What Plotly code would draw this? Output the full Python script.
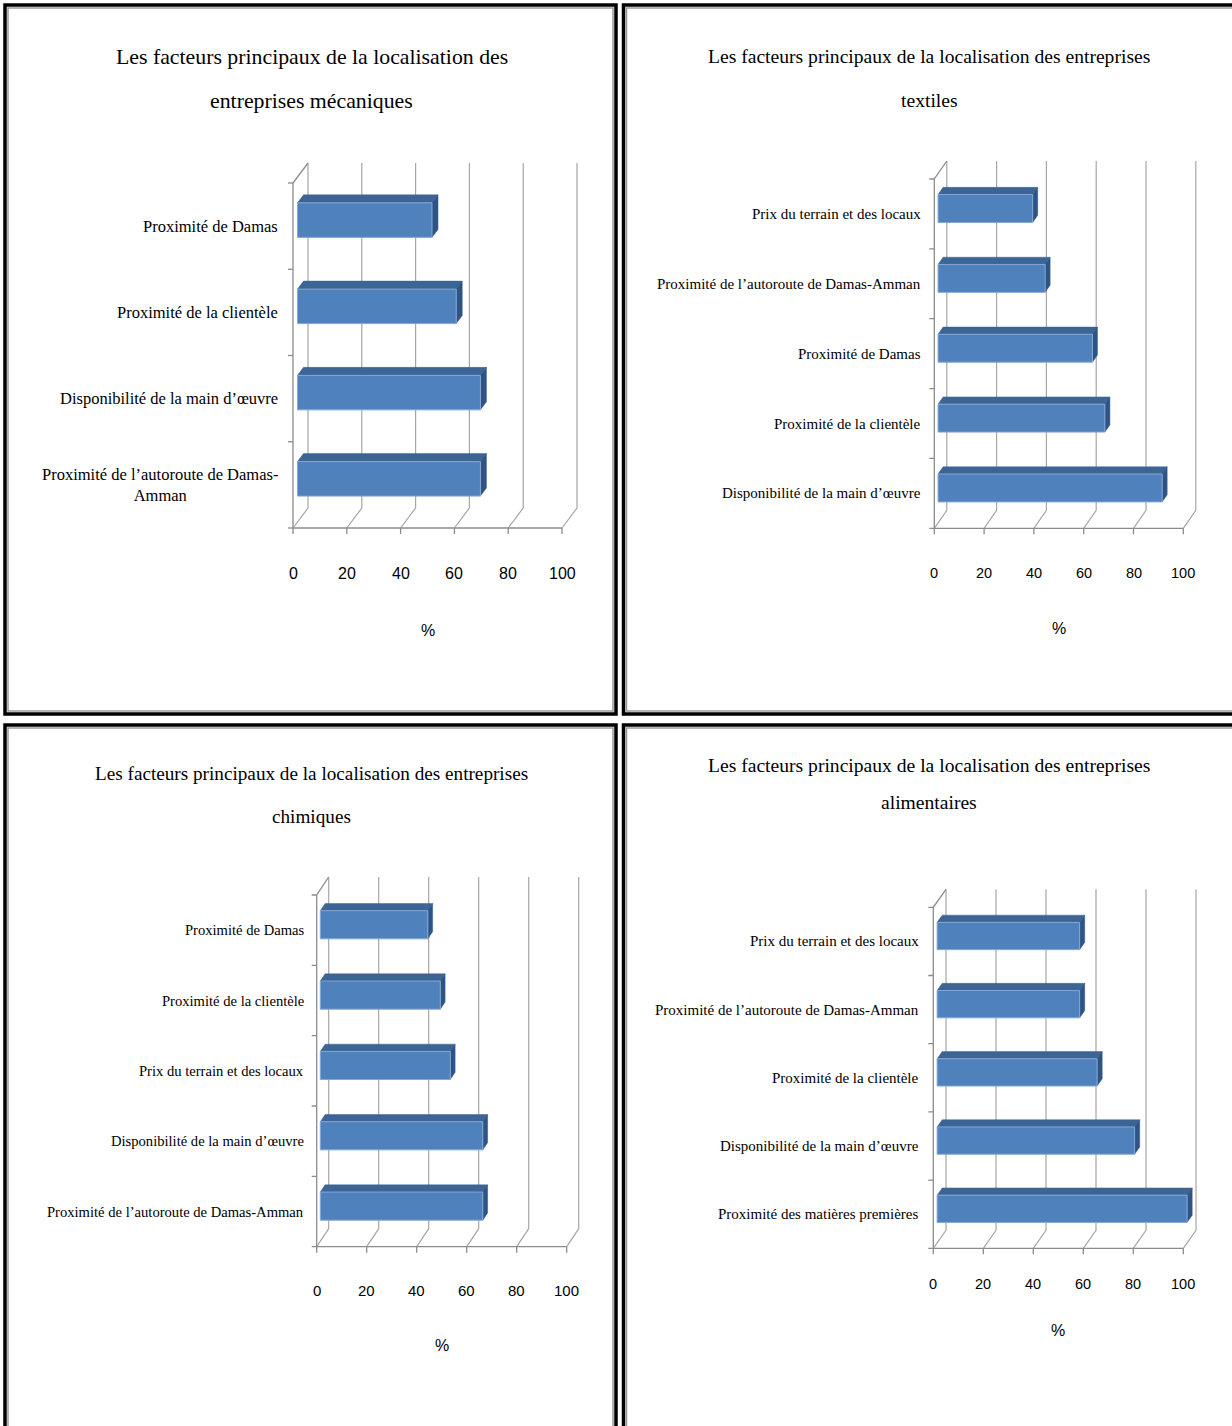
import plotly.graph_objects as go

W, H = 1232, 1426

# ---------------- DATA ----------------
title_line1_long = "Les facteurs principaux de la localisation des entreprises"
meca_title = ["Les facteurs principaux de la localisation des", "entreprises mécaniques"]
text_title = [title_line1_long, "textiles"]
chim_title = [title_line1_long, "chimiques"]
alim_title = [title_line1_long, "alimentaires"]

# categories listed bottom -> top
meca_labels = ["Proximité de l’autoroute de Damas-<br>Amman", "Disponibilité de la main d’œuvre",
               "Proximité de la clientèle", "Proximité de Damas"]
meca_values = [68, 68, 59, 50]

text_labels = ["Disponibilité de la main d’œuvre", "Proximité de la clientèle", "Proximité de Damas",
               "Proximité de l’autoroute de Damas-Amman", "Prix du terrain et des locaux"]
text_values = [90, 67, 62, 43, 38]

chim_labels = ["Proximité de l’autoroute de Damas-Amman", "Disponibilité de la main d’œuvre",
               "Prix du terrain et des locaux", "Proximité de la clientèle", "Proximité de Damas"]
chim_values = [65, 65, 52, 48, 43]

alim_labels = ["Proximité des matières premières", "Disponibilité de la main d’œuvre",
               "Proximité de la clientèle", "Proximité de l’autoroute de Damas-Amman",
               "Prix du terrain et des locaux"]
alim_values = [100, 79, 64, 57, 57]

x_ticks = [0, 20, 40, 60, 80, 100]
x_title = "%"

# ---------------- STYLE / LAYOUT (pixels) ----------------
FRONT = "#4F81BD"
TOP = "#3C6494"
SIDE = "#2E5486"
EDGE = "#86A8D2"
AXIS = "#8C8C8C"
GRID = "#A6A6A6"
SERIF = "Liberation Serif, Times New Roman, serif"
SANS = "Liberation Sans, Arial, sans-serif"

panels = [
    dict(title=meca_title, labels=meca_labels, values=meca_values,
         x0=293, x100=562, ybot=528, ytop=183, Dx=15, Dy=20,
         tpos=[(312, 57), (312, 101)], tsize=21.8, lsize=16.5, lgap=13,
         ty=573, tfs=16, py=630),
    dict(title=text_title, labels=text_labels, values=text_values,
         x0=934.3, x100=1183.3, ybot=528.3, ytop=179, Dx=12.5, Dy=18,
         tpos=[(929, 56), (929, 100)], tsize=19.6, lsize=15, lgap=11,
         ty=573, tfs=14.5, py=628),
    dict(title=chim_title, labels=chim_labels, values=chim_values,
         x0=316.7, x100=566.7, ybot=1246.7, ytop=895, Dx=12, Dy=18,
         tpos=[(312, 773), (312, 816)], tsize=19.2, lsize=14.6, lgap=11,
         ty=1290, tfs=15, py=1345),
    dict(title=alim_title, labels=alim_labels, values=alim_values,
         x0=933.3, x100=1183.3, ybot=1248.3, ytop=907.3, Dx=12.7, Dy=18,
         tpos=[(929, 766), (929, 802)], tsize=19.6, lsize=15, lgap=12,
         ty=1284, tfs=14.5, py=1330),
]

fig = go.Figure()
annotations = []
layout_axes = {}


def px2x(px):
    return px / W


def px2y(py):
    return 1 - py / H


for k, p in enumerate(panels, start=1):
    sfx = "" if k == 1 else str(k)
    xa, ya = f"x{sfx}", f"y{sfx}"
    n = len(p["labels"])
    sx = (p["x100"] - p["x0"]) / 100.0
    band = (p["ybot"] - p["ytop"]) / n
    dx = p["Dx"] / sx
    dy = p["Dy"] / band

    L = p["x0"] - 12
    R = p["x100"] + p["Dx"] + 12
    B = p["ybot"] + 12
    T = p["ytop"] - p["Dy"] - 8
    layout_axes[f"xaxis{sfx}"] = dict(domain=[px2x(L), px2x(R)],
                                      range=[(L - p["x0"]) / sx, (R - p["x0"]) / sx],
                                      visible=False, anchor=ya, fixedrange=True)
    layout_axes[f"yaxis{sfx}"] = dict(domain=[px2y(B), px2y(T)],
                                      range=[(p["ybot"] - B) / band, (p["ybot"] - T) / band],
                                      visible=False, anchor=xa, fixedrange=True)

    # back wall gridlines + floor diagonals
    gx, gy = [], []
    for v in x_ticks:
        gx += [v, v + dx, v + dx, None]
        gy += [0, dy, n + dy, None]
    fig.add_trace(go.Scatter(x=gx, y=gy, mode="lines", line=dict(color=GRID, width=1.2),
                             xaxis=xa, yaxis=ya, hoverinfo="skip", showlegend=False))
    # front axes with tick marks
    ax_x, ax_y = [0, 100, None, 0, 0, dx, None], [0, 0, None, 0, n, n + dy, None]
    for v in x_ticks:
        ax_x += [v, v, None]
        ax_y += [0, -6 / band, None]
    for i in range(n + 1):
        ax_x += [0, -5 / sx, None]
        ax_y += [i, i, None]
    fig.add_trace(go.Scatter(x=ax_x, y=ax_y, mode="lines", line=dict(color=AXIS, width=1.3),
                             xaxis=xa, yaxis=ya, hoverinfo="skip", showlegend=False))

    # 3D bars
    f, bf, h = 0.3, 0.4, 0.40
    fx, fy, tx, ty_, sxs, sys_ = [], [], [], [], [], []
    for i, v in enumerate(p["values"]):
        c = i + 0.5
        xs = f * dx
        y0 = c - h / 2 + f * dy
        y1 = c + h / 2 + f * dy
        ddx, ddy = bf * dx, bf * dy
        fx += [xs, xs + v, xs + v, xs, xs, None]
        fy += [y0, y0, y1, y1, y0, None]
        tx += [xs, xs + v, xs + v + ddx, xs + ddx, xs, None]
        ty_ += [y1, y1, y1 + ddy, y1 + ddy, y1, None]
        sxs += [xs + v, xs + v + ddx, xs + v + ddx, xs + v, xs + v, None]
        sys_ += [y0, y0 + ddy, y1 + ddy, y1, y0, None]
    fig.add_trace(go.Scatter(x=tx, y=ty_, mode="lines", fill="toself", fillcolor=TOP,
                             line=dict(color=TOP, width=0.5), xaxis=xa, yaxis=ya,
                             hoverinfo="skip", showlegend=False))
    fig.add_trace(go.Scatter(x=sxs, y=sys_, mode="lines", fill="toself", fillcolor=SIDE,
                             line=dict(color=SIDE, width=0.5), xaxis=xa, yaxis=ya,
                             hoverinfo="skip", showlegend=False))
    fig.add_trace(go.Scatter(x=fx, y=fy, mode="lines", fill="toself", fillcolor=FRONT,
                             line=dict(color=EDGE, width=1), xaxis=xa, yaxis=ya,
                             hoverinfo="skip", showlegend=False))

    # category labels (x in paper, y on the category axis)
    for i, lab in enumerate(p["labels"]):
        annotations.append(dict(text=lab, xref="paper", yref=ya, x=px2x(p["x0"] - p["lgap"]),
                                y=i + 0.5, xanchor="right", yanchor="middle", align="center",
                                showarrow=False,
                                font=dict(family=SERIF, size=p["lsize"], color="black")))
    # x tick labels
    for v in x_ticks:
        annotations.append(dict(text=str(v), xref=xa, yref="paper", x=v, y=px2y(p["ty"]),
                                xanchor="center", yanchor="middle", showarrow=False,
                                font=dict(family=SANS, size=p["tfs"], color="black")))
    # axis title
    annotations.append(dict(text=x_title, xref=xa, yref="paper", x=50, y=px2y(p["py"]),
                            xanchor="center", yanchor="middle", showarrow=False,
                            font=dict(family=SANS, size=16, color="black")))
    # chart title (two lines)
    for line, (tx0, ty0) in zip(p["title"], p["tpos"]):
        annotations.append(dict(text=line, xref="paper", yref="paper", x=px2x(tx0), y=px2y(ty0),
                                xanchor="center", yanchor="middle", showarrow=False,
                                font=dict(family=SERIF, size=p["tsize"], color="black")))

# panel frames
frames = [(5, 5, 616, 714), (623.5, 5, 1245, 714), (5, 725, 616, 1440), (623.5, 725, 1245, 1440)]
shapes = []
for (a, b, c, d) in frames:
    shapes.append(dict(type="rect", xref="paper", yref="paper",
                       x0=px2x(a + 3), x1=px2x(c - 3), y0=px2y(d - 3), y1=px2y(b + 3),
                       line=dict(color="#9A9A9A", width=1.5), layer="above"))
    shapes.append(dict(type="rect", xref="paper", yref="paper",
                       x0=px2x(a), x1=px2x(c), y0=px2y(d), y1=px2y(b),
                       line=dict(color="black", width=3.5), layer="above"))

fig.update_layout(
    width=W, height=H,
    margin=dict(l=0, r=0, t=0, b=0),
    paper_bgcolor="white", plot_bgcolor="white",
    showlegend=False,
    annotations=annotations,
    shapes=shapes,
    **layout_axes,
)

fig.write_html("out.html", config={"displayModeBar": False},
               post_script="document.body.style.margin='0';")
